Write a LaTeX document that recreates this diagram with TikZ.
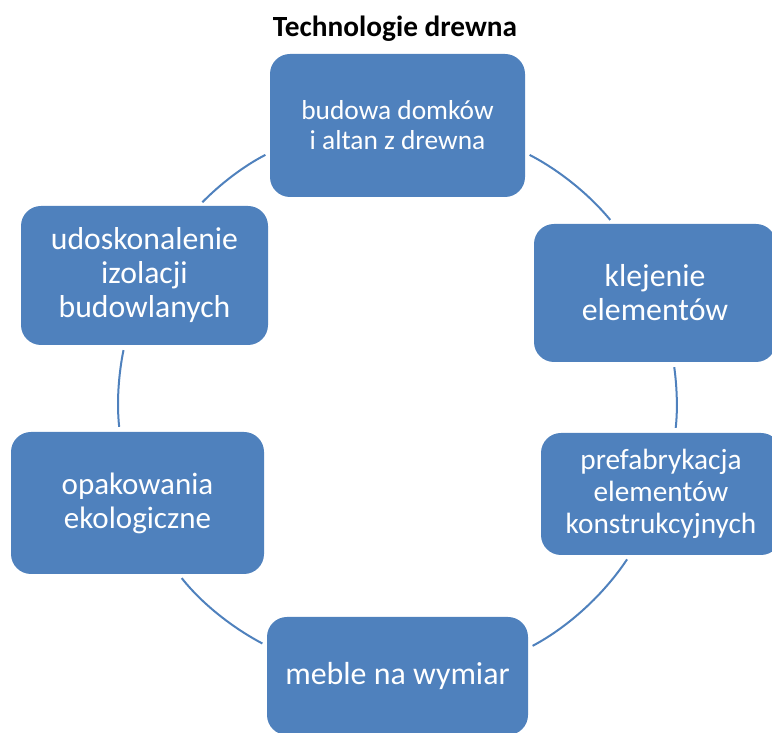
\documentclass[tikz,border=0pt]{standalone}
\usepackage{fontspec}
\setmainfont{Carlito}
\definecolor{itemblue}{RGB}{79,129,189}

\begin{document}
\begin{tikzpicture}
      [
        x = 1pt, y = 1pt,
        item/.style = {fill = itemblue, rounded corners = 20pt, text = white, align = center, inner sep = 0pt},
        link/.style = {draw = itemblue, line width = 2pt, looseness = 0.86, shorten < = 5pt, shorten > = 5pt},
      ]

      \clip (0,0) rectangle (772,733);

      \node[anchor=base, font=\fontsize{29.3}{31}\bfseries] (title) at (395,696) {Technologie drewna};

      \node[item, minimum width=255, minimum height=143, font=\fontsize{27.4}{30}\selectfont] (domki) at (397.5,607.5) {budowa domków\\i altan z drewna};
      \node[item, minimum width=242, minimum height=138, font=\fontsize{31.8}{34}\selectfont] (klejenie) at (655,440) {klejenie\\elementów};
      \node[item, minimum width=240, minimum height=122, font=\fontsize{29.3}{32}\selectfont] (prefab) at (661,239) {prefabrykacja\\elementów\\konstrukcyjnych};
      \node[item, minimum width=261, minimum height=118, font=\fontsize{31.9}{35}\selectfont] (meble) at (397.5,57) {meble na wymiar};
      \node[item, minimum width=253, minimum height=142, font=\fontsize{31}{34}\selectfont] (opak) at (137.5,230) {opakowania\\ekologiczne};
      \node[item, minimum width=247, minimum height=139, font=\fontsize{31.7}{34}\selectfont] (izolacje) at (144.5,457.5) {udoskonalenie\\izolacji\\budowlanych};

      \draw[link] (domki.-12.2) to[out=-27.3, in=129.4] (klejenie.121.5);
      \draw[link] (klejenie.-75.1) to[out=-82, in=83.4] (prefab.77.8);
      \draw[link] (prefab.-117.2) to[out=-123.5, in=28] (meble.12.4);
      \draw[link] (meble.167.8) to[out=152.2, in=-51.7] (opak.-60.2);
      \draw[link] (opak.104.1) to[out=96.4, in=-101.6] (izolacje.-106.7);
      \draw[link] (izolacje.52.7) to[out=45.7, in=-152.9] (domki.-168);
    \end{tikzpicture}
\end{document}
